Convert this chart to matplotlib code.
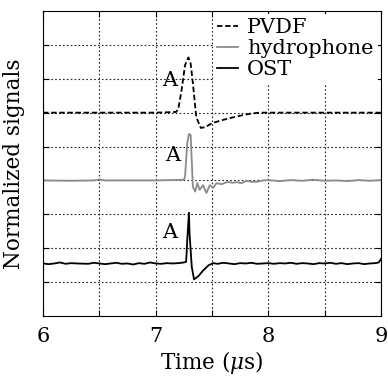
import matplotlib
matplotlib.use('Agg')
import matplotlib.pyplot as plt

plt.rcParams['font.family'] = ['DejaVu Serif']
plt.rcParams['mathtext.fontset'] = 'dejavuserif'

# Sinais (tempo em us, sinal normalizado com deslocamento)
t_pvdf = [6.0, 6.5, 7.0, 7.18, 7.20, 7.23, 7.26, 7.29, 7.31, 7.33, 7.36, 7.40,
          7.44, 7.50, 7.58, 7.66, 7.75, 7.84, 7.92, 8.5, 9.0]
v_pvdf = [6.0, 6.0, 6.0, 6.02, 6.1, 6.67, 7.4, 7.63, 7.45, 6.87, 5.87, 5.55,
          5.57, 5.69, 5.77, 5.84, 5.91, 5.97, 6.0, 6.0, 6.0]

t_hyd = [6.0, 6.25, 6.45, 6.5, 6.55, 6.75, 7.0, 7.25, 7.26, 7.28, 7.295, 7.31,
         7.33, 7.35, 7.37, 7.39, 7.42, 7.45, 7.48, 7.51, 7.54, 7.585, 7.64,
         7.68, 7.72, 7.76, 7.81, 7.85, 7.90, 7.95, 8.0, 8.1, 8.2, 8.3, 8.4,
         8.5, 8.6, 8.7, 8.8, 8.9, 9.0]
v_hyd = [4.0, 3.99, 4.0, 4.03, 4.0, 4.0, 4.0, 4.02, 4.1, 5.1, 5.37, 5.34,
         3.81, 3.67, 3.92, 3.72, 3.86, 3.63, 3.86, 3.78, 3.92, 3.89, 3.96,
         3.93, 3.95, 3.92, 3.99, 3.96, 3.96, 4.0, 4.01, 3.98, 4.01, 3.99, 4.02,
         3.99, 4.0, 3.98, 4.01, 3.99, 4.01]

t_ost = [6.0, 6.05, 6.1, 6.15, 6.2, 6.25, 6.3, 6.4, 6.45, 6.5, 6.55, 6.6,
         6.65, 6.7, 6.75, 6.8, 6.85, 6.9, 6.95, 7.0, 7.05, 7.1, 7.15, 7.2,
         7.25, 7.27, 7.28, 7.295, 7.30, 7.32, 7.34, 7.38, 7.42, 7.47, 7.51,
         7.55, 7.6, 7.65, 7.7, 7.75, 7.8, 7.85, 7.9, 7.95, 8.0, 8.05, 8.1,
         8.15, 8.2, 8.25, 8.3, 8.35, 8.4, 8.45, 8.5, 8.55, 8.6, 8.65, 8.7,
         8.75, 8.8, 8.85, 8.9, 8.95, 8.98, 9.0]
v_ost = [1.55, 1.53, 1.55, 1.58, 1.54, 1.56, 1.55, 1.54, 1.57, 1.55, 1.53, 1.55,
         1.57, 1.54, 1.55, 1.52, 1.56, 1.54, 1.58, 1.55, 1.54, 1.56, 1.55, 1.56,
         1.58, 1.6, 2.24, 3.05, 2.45, 1.45, 1.08, 1.18, 1.34, 1.5, 1.56,
         1.54, 1.57, 1.55, 1.53, 1.56, 1.55, 1.57, 1.54, 1.55, 1.56, 1.54, 1.56,
         1.55, 1.57, 1.54, 1.56, 1.55, 1.53, 1.56, 1.55, 1.57, 1.54, 1.56, 1.53,
         1.55, 1.56, 1.53, 1.55, 1.56, 1.58, 1.68]

# posições dos rótulos "A"
a_t = [7.127, 7.15, 7.127]
a_v = [6.96, 4.75, 2.45]

x_ticks = [6, 6.5, 7, 7.5, 8, 8.5, 9]
x_labels = ['6', '', '7', '', '8', '', '9']
y_ticks = [1, 2, 3, 4, 5, 6, 7, 8]

fig = plt.figure(figsize=(3.88, 3.78), dpi=100)
ax = fig.add_axes([0.111, 0.164, 0.871, 0.807])

ax.plot(t_pvdf, v_pvdf, color='black', linestyle=(0, (3, 1.5)), linewidth=1.3, label='PVDF')
ax.plot(t_hyd, v_hyd, color='#8a8a8a', linewidth=1.3, label='hydrophone')
ax.plot(t_ost, v_ost, color='black', linewidth=1.3, label='OST')

for tt, vv in zip(a_t, a_v):
    ax.text(tt, vv, 'A', fontsize=15, ha='center', va='center')

ax.set_xlim(6, 9)
ax.set_ylim(0, 9)
ax.set_xticks(x_ticks)
ax.set_xticklabels(x_labels)
ax.set_yticks(y_ticks)
ax.set_yticklabels([])
ax.tick_params(direction='in', top=True, right=True, labelsize=15, length=4, pad=8)
ax.grid(True, color='#222222', linestyle=(0, (1.5, 2)), linewidth=0.8)
ax.set_xlabel(r'Time ($\mu$s)', fontsize=15.5, labelpad=2)
ax.set_ylabel('Normalized signals', fontsize=15.5)
ax.yaxis.set_label_coords(-0.053, 0.5)

leg = ax.legend(loc='upper right', fontsize=15, handlelength=1.0, handletextpad=0.45,
                labelspacing=0.1, borderaxespad=0.15, borderpad=0.2,
                frameon=True, fancybox=False)
leg.get_frame().set_edgecolor('none')
leg.get_frame().set_facecolor('white')
leg.get_frame().set_alpha(1)

plt.savefig('out.png', dpi=100)
plt.close()
